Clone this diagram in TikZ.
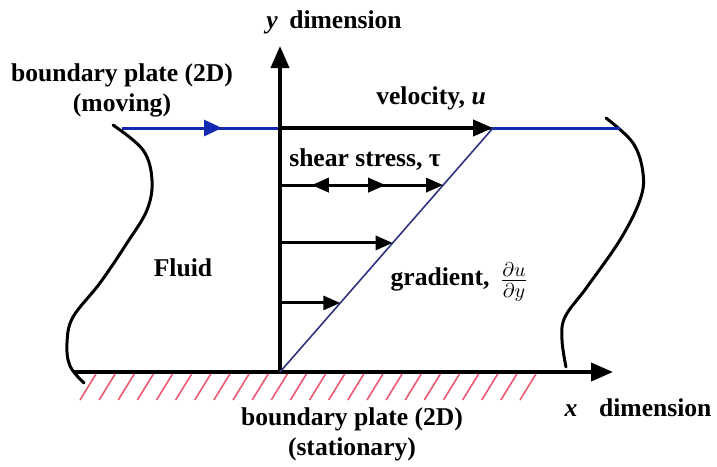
\documentclass[tikz,border=0pt]{standalone}
\usepackage{fontspec}
\setmainfont{Liberation Serif}
\usepackage{amsmath}
\usetikzlibrary{arrows.meta,calc,decorations.markings}
\definecolor{plateblue}{rgb}{0.08,0.16,0.70}
\definecolor{gradnavy}{rgb}{0.18,0.20,0.50}
\definecolor{hatchred}{rgb}{0.93,0.35,0.45}
\tikzset{
  axisline/.style={line width=2pt,-{Triangle[length=11pt,width=9pt]}},
  plateline/.style={line width=1.5pt,draw=plateblue},
  vecU/.style={line width=2pt,-{Triangle[length=10pt,width=8pt]}},
  shearvec/.style={line width=1.5pt,-{Triangle[length=8.5pt,width=7pt]}},
  shearmid/.style={postaction={decorate},decoration={markings,
      mark=at position #1 with {\arrow{Triangle[length=8.5pt,width=7pt]}}}},
  shearback/.style={postaction={decorate},decoration={markings,
      mark=at position #1 with {\arrowreversed{Triangle[length=8.5pt,width=7pt]}}}},
  gradline/.style={line width=0.8pt,draw=gradnavy},
  bendline/.style={line width=1.5pt,line cap=round},
  hatchline/.style={line width=0.8pt,draw=hatchred},
  lbl/.style={font=\fontsize{12.8}{15}\selectfont\bfseries,align=center,inner sep=0pt},
}
\begin{document}
\begin{tikzpicture}[x=0.5pt,y=-0.5pt,font=\fontsize{12.8}{15}\selectfont]
  \useasboundingbox (0,0) rectangle (717,466);
  \coordinate (O) at (280,372);
  \coordinate (yEnd) at (280,46);
  \coordinate (xStart) at (74,372);
  \coordinate (xEnd) at (613,372);
  \coordinate (uBase) at (280,128);
  \coordinate (uTip) at (493,128);
  \coordinate (plateL) at (122,128);
  \coordinate (plateR) at (620,128);
  \coordinate (plateHead) at (222,128);
  % points on the gradient line
  \coordinate (s1) at ($(O)!0.766!(uTip)$);
  \coordinate (s2) at ($(O)!0.529!(uTip)$);
  \coordinate (s3) at ($(O)!0.283!(uTip)$);

  % edges of the fluid
  \draw[bendline] plot[smooth,tension=0.6] coordinates {(113,125) (143,150) (152,180)
    (147,210) (127,243) (100,283) (73,317) (67,343) (70,366) (84,383)};
  \draw[bendline] plot[smooth,tension=0.6] coordinates {(606,118) (633,143) (643,173)
    (640,200) (620,240) (587,287) (565,317) (562,340) (566,367)};

  % stationary plate
  \foreach \k in {0,...,23}
    \draw[hatchline] ({80+19.13*\k},400) -- ++(16,-26);

  % moving plate
  \draw[plateline] (plateL) -- (plateR);
  \draw[plateline,-{Triangle[length=9pt,width=8pt]}] (plateL) -- (plateHead);

  % axes
  \draw[axisline] (xStart) -- (xEnd);
  \draw[axisline] (O) -- (yEnd);

  % velocity profile
  \draw[vecU] (uBase) -- (uTip);
  \draw[gradline] (O) -- (uTip);
  \draw[shearvec,shearmid=0.644,shearback=0.196] (O |- s1) -- (s1);
  \draw[shearvec] (O |- s2) -- (s2);
  \draw[shearvec] (O |- s3) -- (s3);

  % labels
  \node[lbl] (yLbl) at (334,22) {\textit{y}\hspace{0.45em}dimension};
  \node[lbl] (movLbl) at (122,90) {boundary plate (2D)\\(moving)};
  \node[lbl] (uLbl) at (431,98) {velocity, \textit{u}};
  \node[lbl] (tauLbl) at (365,160) {shear stress, τ};
  \node[lbl] (fluidLbl) at (183,268) {Fluid};
  \node[lbl] (gradLbl) at (440,279) {gradient,};
  \node[inner sep=0pt] (fracLbl) at (514,282) {\fontsize{14.5}{16}\selectfont$\frac{\partial u}{\partial y}$};
  \node[lbl] (statLbl) at (352,434) {boundary plate (2D)\\(stationary)};
  \node[lbl] (xLbl) at (638,408) {\textit{x}\hspace{0.85em}dimension};
\end{tikzpicture}
\end{document}
